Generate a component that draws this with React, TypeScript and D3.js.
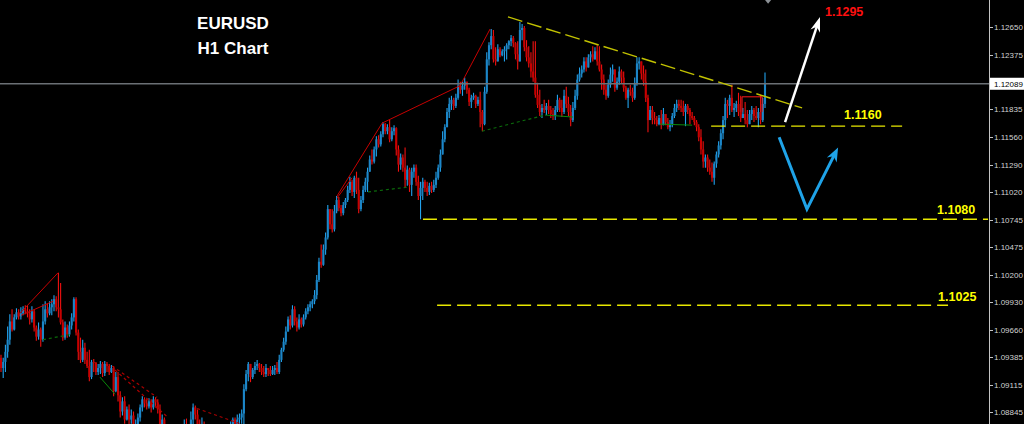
import React from 'react';
import * as d3 from 'd3';

const W = 1024;
const H = 424;

// EURUSD H1 candles (open of each bar = previous close)
const firstOpen = 1.0938;
const closes = [
  1.0928,1.0934,1.0944,1.0956,1.0974,1.0966,1.0978,1.0983,1.0979,1.0982,
  1.0986,1.0984,1.0982,1.0976,1.0984,1.0968,1.0959,1.0966,1.0956,1.0974,
  1.0986,1.0982,1.0988,1.0991,1.0996,1.0988,1.0986,1.0973,1.0958,1.0968,
  1.0961,1.0970,1.0978,1.0996,1.0963,1.0944,1.0936,1.0948,1.0936,1.0930,
  1.0919,1.0934,1.0933,1.0924,1.0928,1.0932,1.0923,1.0932,1.0930,1.0924,
  1.0928,1.0905,1.0919,1.0901,1.0885,1.0895,1.0877,1.0887,1.0877,1.0881,
  1.0869,1.0872,1.0879,1.0889,1.0897,1.0893,1.0890,1.0895,1.0889,1.0897,
  1.0894,1.0887,1.0872,1.0877,1.0869,1.0859,1.0863,1.0852,1.0857,1.0849,
  1.0853,1.0847,1.0861,1.0867,1.0859,1.0865,1.0877,1.0889,1.0882,1.0872,
  1.0865,1.0871,1.0863,1.0859,1.0855,1.0852,1.0857,1.0851,1.0849,1.0855,
  1.0859,1.0861,1.0857,1.0865,1.0869,1.0877,1.0873,1.0877,1.0879,1.0883,
  1.0907,1.0922,1.0932,1.0919,1.0926,1.0930,1.0932,1.0928,1.0924,1.0922,
  1.0928,1.0926,1.0922,1.0926,1.0928,1.0924,1.0936,1.0946,1.0954,1.0964,
  1.0976,1.0970,1.0986,1.0974,1.0968,1.0976,1.0971,1.0978,1.0984,1.0988,
  1.0991,1.0994,1.1000,1.1015,1.1033,1.1030,1.1045,1.1057,1.1085,1.1070,
  1.1065,1.1083,1.1094,1.1086,1.1081,1.1089,1.1094,1.1104,1.1112,1.1102,
  1.1116,1.1104,1.1085,1.1094,1.1104,1.1112,1.1122,1.1134,1.1132,1.1144,
  1.1154,1.1149,1.1159,1.1169,1.1162,1.1166,1.1154,1.1162,1.1165,1.1144,
  1.1129,1.1136,1.1126,1.1114,1.1124,1.1109,1.1122,1.1126,1.1112,1.1098,
  1.1106,1.1112,1.1106,1.1102,1.1108,1.1104,1.1109,1.1116,1.1126,1.1139,
  1.1154,1.1166,1.1181,1.1189,1.1193,1.1187,1.1195,1.1207,1.1203,1.1207,
  1.1211,1.1203,1.1191,1.1195,1.1197,1.1189,1.1193,1.1181,1.1169,1.1201,
  1.1233,1.1247,1.1256,1.1233,1.1231,1.1243,1.1237,1.1241,1.1243,1.1247,
  1.1251,1.1254,1.1249,1.1238,1.1231,1.1262,1.1264,1.1245,1.1235,1.1229,
  1.1221,1.1215,1.1198,1.1188,1.1181,1.1185,1.1183,1.1187,1.1183,1.1179,
  1.1177,1.1183,1.1193,1.1185,1.1181,1.1197,1.1189,1.1181,1.1173,1.1185,
  1.1197,1.1213,1.1219,1.1223,1.1231,1.1225,1.1235,1.1238,1.1233,1.1241,
  1.1231,1.1223,1.1213,1.1203,1.1197,1.1208,1.1218,1.1223,1.1205,1.1211,
  1.1221,1.1215,1.1205,1.1195,1.1203,1.1201,1.1195,1.1209,1.1229,1.1231,
  1.1219,1.1211,1.1195,1.1173,1.1183,1.1175,1.1173,1.1169,1.1175,1.1168,
  1.1179,1.1171,1.1166,1.1168,1.1177,1.1185,1.1189,1.1187,1.1185,1.1181,
  1.1187,1.1183,1.1177,1.1175,1.1171,1.1166,1.1156,1.1144,1.1132,1.1136,
  1.1126,1.1122,1.1116,1.1130,1.1139,1.1148,1.1160,1.1173,1.1189,1.1187,
  1.1195,1.1183,1.1185,1.1189,1.1181,1.1175,1.1179,1.1173,1.1169,1.1179,
  1.1183,1.1177,1.1175,1.1181,1.1173,1.1189,1.1209,
];
const highs = [
  1.0941,1.0938,1.0951,1.0969,1.0981,1.0986,1.0981,1.0987,1.0986,1.0988,
  1.0989,1.0990,1.0990,1.0986,1.0989,1.0986,1.0970,1.0973,1.0968,1.0991,
  1.0994,1.0992,1.0994,1.0996,1.1000,1.0999,1.1022,1.1012,1.0976,1.0974,
  1.0971,1.0974,1.0982,1.0998,1.0998,1.0966,1.0958,1.0956,1.0953,1.0944,
  1.0946,1.0936,1.0937,1.0934,1.0932,1.0935,1.0934,1.0935,1.0934,1.0932,
  1.0931,1.0930,1.0924,1.0924,1.0905,1.0899,1.0900,1.0890,1.0892,1.0887,
  1.0885,1.0877,1.0883,1.0892,1.0900,1.0899,1.0897,1.0898,1.0897,1.0900,
  1.0899,1.0897,1.0892,1.0882,1.0879,1.0872,1.0869,1.0862,1.0862,1.0859,
  1.0859,1.0857,1.0867,1.0877,1.0878,1.0872,1.0885,1.0893,1.0891,1.0887,
  1.0877,1.0879,1.0875,1.0872,1.0865,1.0865,1.0862,1.0861,1.0859,1.0861,
  1.0867,1.0867,1.0867,1.0871,1.0875,1.0879,1.0879,1.0882,1.0883,1.0887,
  1.0912,1.0926,1.0934,1.0930,1.0928,1.0934,1.0936,1.0933,1.0932,1.0930,
  1.0932,1.0928,1.0930,1.0930,1.0931,1.0934,1.0941,1.0948,1.0958,1.0969,
  1.0979,1.0980,1.0990,1.0989,1.0978,1.0981,1.0978,1.0981,1.0987,1.0991,
  1.0994,1.0996,1.1005,1.1020,1.1037,1.1050,1.1050,1.1062,1.1089,1.1085,
  1.1085,1.1089,1.1098,1.1097,1.1089,1.1092,1.1096,1.1108,1.1117,1.1114,
  1.1118,1.1122,1.1116,1.1098,1.1108,1.1116,1.1126,1.1138,1.1144,1.1147,
  1.1157,1.1158,1.1162,1.1171,1.1170,1.1169,1.1173,1.1166,1.1168,1.1166,
  1.1148,1.1140,1.1139,1.1146,1.1128,1.1126,1.1126,1.1129,1.1129,1.1118,
  1.1112,1.1116,1.1114,1.1112,1.1111,1.1112,1.1114,1.1122,1.1129,1.1144,
  1.1162,1.1169,1.1185,1.1195,1.1197,1.1195,1.1199,1.1213,1.1211,1.1211,
  1.1215,1.1209,1.1205,1.1198,1.1200,1.1198,1.1196,1.1201,1.1183,1.1206,
  1.1240,1.1250,1.1263,1.1262,1.1245,1.1248,1.1245,1.1243,1.1246,1.1249,
  1.1252,1.1257,1.1256,1.1250,1.1251,1.1270,1.1268,1.1266,1.1252,1.1246,
  1.1240,1.1251,1.1251,1.1210,1.1203,1.1189,1.1193,1.1190,1.1193,1.1187,
  1.1185,1.1187,1.1198,1.1195,1.1193,1.1203,1.1206,1.1196,1.1188,1.1191,
  1.1203,1.1218,1.1225,1.1227,1.1235,1.1235,1.1238,1.1241,1.1246,1.1245,
  1.1248,1.1246,1.1228,1.1218,1.1208,1.1213,1.1225,1.1228,1.1223,1.1215,
  1.1226,1.1223,1.1221,1.1207,1.1205,1.1208,1.1205,1.1215,1.1235,1.1235,
  1.1231,1.1227,1.1223,1.1198,1.1187,1.1187,1.1181,1.1177,1.1178,1.1183,
  1.1185,1.1179,1.1175,1.1173,1.1180,1.1189,1.1193,1.1193,1.1193,1.1192,
  1.1189,1.1189,1.1185,1.1181,1.1177,1.1173,1.1169,1.1164,1.1152,1.1139,
  1.1139,1.1134,1.1131,1.1132,1.1142,1.1152,1.1164,1.1177,1.1195,1.1193,
  1.1198,1.1208,1.1190,1.1192,1.1200,1.1197,1.1185,1.1191,1.1183,1.1183,
  1.1187,1.1185,1.1187,1.1185,1.1198,1.1195,1.1220,
];
const lows = [
  1.0924,1.0918,1.0924,1.0938,1.0951,1.0964,1.0965,1.0976,1.0976,1.0976,
  1.0980,1.0981,1.0978,1.0971,1.0973,1.0964,1.0955,1.0956,1.0949,1.0954,
  1.0971,1.0978,1.0980,1.0980,1.0984,1.0984,1.0978,1.0971,1.0955,1.0956,
  1.0958,1.0959,1.0966,1.0974,1.0960,1.0936,1.0933,1.0934,1.0932,1.0928,
  1.0915,1.0917,1.0924,1.0921,1.0921,1.0922,1.0919,1.0920,1.0924,1.0921,
  1.0923,1.0900,1.0904,1.0895,1.0879,1.0881,1.0873,1.0876,1.0871,1.0873,
  1.0865,1.0862,1.0867,1.0875,1.0885,1.0889,1.0887,1.0888,1.0884,1.0887,
  1.0889,1.0883,1.0867,1.0867,1.0861,1.0852,1.0855,1.0845,1.0847,1.0842,
  1.0845,1.0841,1.0849,1.0857,1.0855,1.0857,1.0863,1.0872,1.0877,1.0867,
  1.0859,1.0861,1.0857,1.0852,1.0849,1.0845,1.0847,1.0845,1.0842,1.0845,
  1.0849,1.0851,1.0849,1.0853,1.0861,1.0867,1.0865,1.0869,1.0871,1.0873,
  1.0869,1.0905,1.0915,1.0914,1.0917,1.0922,1.0926,1.0924,1.0921,1.0919,
  1.0919,1.0920,1.0920,1.0921,1.0921,1.0922,1.0922,1.0934,1.0944,1.0951,
  1.0964,1.0966,1.0968,1.0970,1.0964,1.0966,1.0968,1.0969,1.0976,1.0981,
  1.0984,1.0987,1.0991,1.0996,1.1013,1.1027,1.1029,1.1040,1.1055,1.1065,
  1.1062,1.1063,1.1081,1.1083,1.1078,1.1079,1.1086,1.1092,1.1101,1.1098,
  1.1096,1.1100,1.1081,1.1083,1.1091,1.1102,1.1102,1.1122,1.1129,1.1130,
  1.1137,1.1146,1.1147,1.1156,1.1159,1.1159,1.1151,1.1152,1.1158,1.1138,
  1.1122,1.1124,1.1122,1.1106,1.1108,1.1102,1.1098,1.1116,1.1108,1.1094,
  1.1075,1.1094,1.1102,1.1098,1.1099,1.1101,1.1102,1.1106,1.1114,1.1122,
  1.1144,1.1151,1.1168,1.1175,1.1183,1.1183,1.1185,1.1193,1.1199,1.1197,
  1.1203,1.1199,1.1187,1.1185,1.1193,1.1185,1.1187,1.1166,1.1162,1.1168,
  1.1199,1.1227,1.1243,1.1230,1.1227,1.1233,1.1235,1.1236,1.1231,1.1233,
  1.1243,1.1246,1.1245,1.1233,1.1223,1.1233,1.1252,1.1241,1.1231,1.1225,
  1.1215,1.1211,1.1195,1.1185,1.1177,1.1175,1.1180,1.1178,1.1179,1.1175,
  1.1173,1.1173,1.1181,1.1181,1.1176,1.1179,1.1185,1.1177,1.1167,1.1171,
  1.1183,1.1193,1.1211,1.1215,1.1220,1.1221,1.1225,1.1230,1.1231,1.1233,
  1.1227,1.1221,1.1203,1.1198,1.1193,1.1195,1.1205,1.1211,1.1201,1.1203,
  1.1208,1.1209,1.1201,1.1193,1.1185,1.1197,1.1191,1.1193,1.1207,1.1223,
  1.1213,1.1207,1.1191,1.1161,1.1175,1.1169,1.1169,1.1167,1.1168,1.1164,
  1.1171,1.1168,1.1164,1.1162,1.1166,1.1175,1.1181,1.1183,1.1181,1.1177,
  1.1167,1.1179,1.1169,1.1173,1.1168,1.1162,1.1152,1.1139,1.1126,1.1126,
  1.1122,1.1119,1.1112,1.1109,1.1126,1.1136,1.1144,1.1154,1.1166,1.1175,
  1.1178,1.1181,1.1176,1.1181,1.1177,1.1171,1.1175,1.1169,1.1166,1.1171,
  1.1173,1.1171,1.1173,1.1166,1.1169,1.1171,1.1185,
];

// price axis
const tickValues = [1.1265, 1.12375, 1.11835, 1.1156, 1.1129, 1.1102, 1.10745, 1.10475, 1.102, 1.0993, 1.0966, 1.09385, 1.09115, 1.08845];
const currentPrice = 1.12089;

// annotations, as [bar index, price]
type Pt = { i: number; p: number };
const resistanceTrend: Pt[] = [{ i: 229.6, p: 1.1275 }, { i: 362.8, p: 1.1185 }];
const levels = [
  { p: 1.1167, i0: 321.6, i1: 408.1, label: '1.1160', li: 381.8, dy: -7 },
  { p: 1.1075, i0: 191.1, i1: 447.0, label: '1.1080', li: 423.9, dy: -5 },
  { p: 1.0990, i0: 197.5, i1: 428.9, label: '1.1025', li: 424.4, dy: -4 },
];
const targetLabel = { i: 373.2, p: 1.1276, text: '1.1295' };
const redSolid: Pt[][] = [
  [{ i: 8.6, p: 1.0982 }, { i: 25.8, p: 1.1022 }],
  [{ i: 9.1, p: 1.0980 }, { i: 23.6, p: 1.0994 }],
  [{ i: 152.2, p: 1.1098 }, { i: 172.6, p: 1.1170 }, { i: 207.9, p: 1.1207 }, { i: 221.5, p: 1.1263 }],
  [{ i: 152.2, p: 1.1096 }, { i: 159.0, p: 1.1116 }],
];
const redDashed: Pt[][] = [
  [{ i: 50.3, p: 1.0930 }, { i: 70.7, p: 1.0899 }],
  [{ i: 51.6, p: 1.0926 }, { i: 75.2, p: 1.0880 }],
  [{ i: 88.8, p: 1.0888 }, { i: 108.2, p: 1.0873 }],
];
const greenDashed: Pt[][] = [
  [{ i: 19.0, p: 1.0956 }, { i: 31.3, p: 1.0961 }],
  [{ i: 166.2, p: 1.1102 }, { i: 185.2, p: 1.1107 }],
  [{ i: 217.8, p: 1.1162 }, { i: 246.4, p: 1.1178 }],
];
const greenSolid: Pt[][] = [
  [{ i: 44.8, p: 1.0919 }, { i: 51.6, p: 1.0902 }],
  [{ i: 246.4, p: 1.1178 }, { i: 259.1, p: 1.1176 }],
  [{ i: 298.5, p: 1.1169 }, { i: 313.0, p: 1.1168 }],
];
const redBox: Pt[] = [{ i: 335.6, p: 1.1181 }, { i: 335.6, p: 1.1196 }, { i: 344.7, p: 1.1196 }, { i: 344.7, p: 1.1181 }];
const bullArrow: Pt[] = [{ i: 355.1, p: 1.1171 }, { i: 370.9, p: 1.1275 }];
const swingArrow: Pt[] = [{ i: 352.4, p: 1.1156 }, { i: 365.0, p: 1.1085 }, { i: 379.1, p: 1.1146 }];
const alertMark: Pt = { i: 347.4, p: 1.1294 };

function arrowHead(x0: number, y0: number, x1: number, y1: number, len: number, half: number) {
  const dx = x1 - x0, dy = y1 - y0;
  const d = Math.hypot(dx, dy);
  const ux = dx / d, uy = dy / d;
  const bx = x1 - ux * len, by = y1 - uy * len;
  const nx = -uy, ny = ux;
  const mx = x1 - ux * len * 0.7, my = y1 - uy * len * 0.7;
  return `${x1},${y1} ${bx + nx * half},${by + ny * half} ${mx},${my} ${bx - nx * half},${by - ny * half}`;
}

export default function App() {
  const x = d3.scaleLinear().domain([0, closes.length - 1]).range([1, 765]);
  const y = d3.scaleLinear().domain([1.08845, 1.1265]).range([412, 27]);
  const line = d3.line<Pt>().x(d => x(d.i)).y(d => y(d.p));
  const axisX = 989;

  const candles = closes.map((c, i) => {
    const o = i === 0 ? firstOpen : closes[i - 1];
    return { i, o, c, h: Math.max(highs[i], o, c), l: Math.min(lows[i], o, c) };
  });

  const wa = bullArrow.map(d => [x(d.i), y(d.p)]);
  const sa = swingArrow.map(d => [x(d.i), y(d.p)]);
  const am = [x(alertMark.i), y(alertMark.p)];

  return (
    <svg width={W} height={H} style={{ position: 'absolute', left: 0, top: 0, display: 'block', background: '#000' }}>
      <rect x={0} y={0} width={W} height={H} fill="#000" />

      {/* candles */}
      <g>
        {candles.map(d => {
          const up = d.c >= d.o;
          const wick = up ? '#22a2ec' : '#f01010';
          const body = up ? '#1c86c8' : '#c80000';
          const yTop = y(Math.max(d.o, d.c));
          const yBot = y(Math.min(d.o, d.c));
          const cx = x(d.i);
          return (
            <g key={d.i}>
              <line x1={cx} x2={cx} y1={y(d.h)} y2={y(d.l)} stroke={wick} strokeWidth={1.1} />
              <rect x={cx - 1.05} y={yTop} width={2.1} height={Math.max(1, yBot - yTop)} fill={body} />
            </g>
          );
        })}
      </g>

      {/* pattern lines */}
      {redSolid.map((pts, k) => (
        <path key={'rs' + k} d={line(pts) || ''} fill="none" stroke="#c80000" strokeWidth={1} />
      ))}
      {redDashed.map((pts, k) => (
        <path key={'rd' + k} d={line(pts) || ''} fill="none" stroke="#a80000" strokeWidth={1.2} strokeDasharray="3,3" />
      ))}
      {greenDashed.map((pts, k) => (
        <path key={'gd' + k} d={line(pts) || ''} fill="none" stroke="#0b6b0b" strokeWidth={1.2} strokeDasharray="3,3" />
      ))}
      {greenSolid.map((pts, k) => (
        <path key={'gs' + k} d={line(pts) || ''} fill="none" stroke="#0a8a0a" strokeWidth={1} />
      ))}
      <path d={line(redBox) || ''} fill="none" stroke="#ff1a1a" strokeWidth={1} />

      {/* current price line */}
      <line x1={0} x2={axisX} y1={y(currentPrice)} y2={y(currentPrice)} stroke="#6b7075" strokeWidth={1.6} />

      {/* trend line */}
      <path d={line(resistanceTrend) || ''} fill="none" stroke="#c2c200" strokeWidth={1.4} strokeDasharray="15,5" />

      {/* horizontal levels */}
      {levels.map((lv, k) => (
        <g key={'lv' + k}>
          <line x1={x(lv.i0)} x2={x(lv.i1)} y1={y(lv.p)} y2={y(lv.p)} stroke="#e8e800" strokeWidth={1.4} strokeDasharray="14,6" />
          <text x={x(lv.li)} y={y(lv.p) + lv.dy} fill="#ffff00" fontFamily="'Liberation Sans', Arial, sans-serif" fontWeight="bold" fontSize={12.5}>{lv.label}</text>
        </g>
      ))}
      <text x={x(targetLabel.i)} y={y(targetLabel.p)} fill="#ff1010" fontFamily="'Liberation Sans', Arial, sans-serif" fontWeight="bold" fontSize={12.5}>{targetLabel.text}</text>

      {/* arrows */}
      <line x1={wa[0][0]} y1={wa[0][1]} x2={wa[1][0] - (wa[1][0] - wa[0][0]) * 0.08} y2={wa[1][1] - (wa[1][1] - wa[0][1]) * 0.08} stroke="#ffffff" strokeWidth={2.5} />
      <polygon points={arrowHead(wa[0][0], wa[0][1], wa[1][0], wa[1][1], 15, 5)} fill="#ffffff" />
      <polyline points={sa.slice(0, 2).map(p => p.join(',')).join(' ') + ' ' + [sa[2][0] - (sa[2][0] - sa[1][0]) * 0.1, sa[2][1] - (sa[2][1] - sa[1][1]) * 0.1].join(',')} fill="none" stroke="#1fa3e8" strokeWidth={3} strokeLinejoin="miter" />
      <polygon points={arrowHead(sa[1][0], sa[1][1], sa[2][0], sa[2][1], 14, 5.5)} fill="#1fa3e8" />
      <polygon points={`${am[0]},${am[1] - 6} ${am[0] + 5},${am[1]} ${am[0]},${am[1] + 6} ${am[0] - 5},${am[1]}`} fill="#8c9196" />

      {/* title */}
      <text x={233} y={29} textAnchor="middle" fill="#ffffff" fontFamily="'Liberation Sans', Arial, sans-serif" fontWeight="bold" fontSize={17}>EURUSD</text>
      <text x={233} y={54} textAnchor="middle" fill="#ffffff" fontFamily="'Liberation Sans', Arial, sans-serif" fontWeight="bold" fontSize={17}>H1 Chart</text>

      {/* price axis */}
      <line x1={axisX + 0.5} x2={axisX + 0.5} y1={0} y2={H} stroke="#c4c4c4" strokeWidth={1} />
      {tickValues.map(t => (
        <g key={t}>
          <line x1={axisX} x2={axisX + 4} y1={Math.round(y(t)) + 0.5} y2={Math.round(y(t)) + 0.5} stroke="#c4c4c4" />
          <text x={axisX + 5} y={y(t) + 3} fill="#d2d2d2" fontFamily="'Liberation Sans', Arial, sans-serif" fontSize={8}>{t.toFixed(5)}</text>
        </g>
      ))}
      <rect x={axisX + 1} y={y(currentPrice) - 6} width={W - axisX - 1} height={12} fill="#ffffff" />
      <text x={axisX + 5} y={y(currentPrice) + 3} fill="#000000" fontFamily="'Liberation Sans', Arial, sans-serif" fontSize={8}>{currentPrice.toFixed(5)}</text>
    </svg>
  );
}
